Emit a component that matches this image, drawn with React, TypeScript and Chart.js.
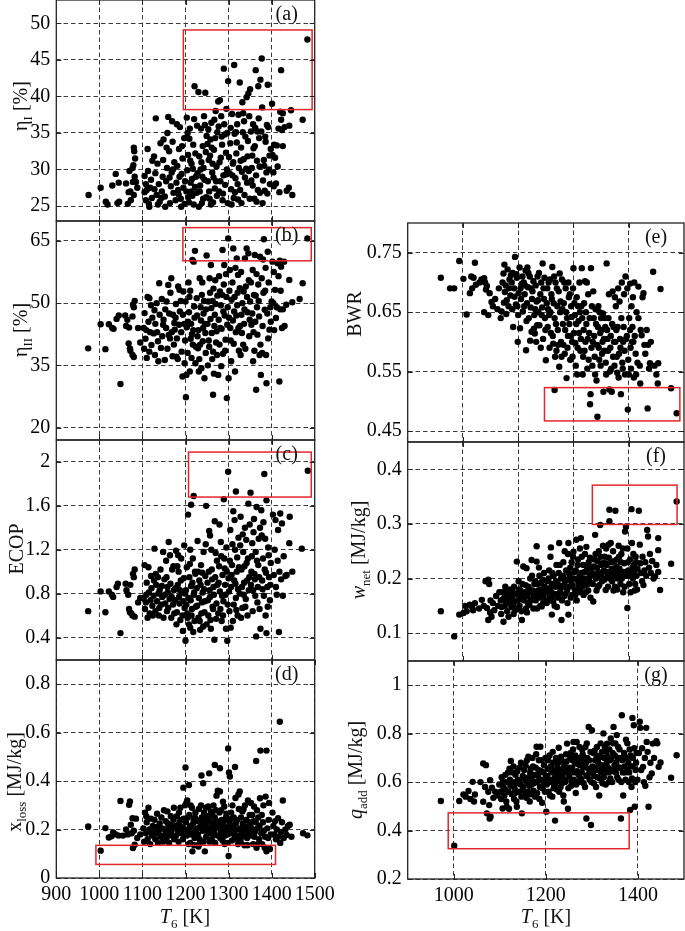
import React, { useEffect, useRef } from "react";
import { Chart, registerables } from "chart.js";

Chart.register(...registerables);

type Pt = [number, number];

// ---------- data: [T6 (K), value] ----------
const etaIPoints: Pt[] = [
  [975,26.5],[1003,27.5],[1015,25.6],[1019,25.2],[1030,27.8],[1038,29.4],[1045,28.2],[1046,25.6],[1042,25.4],
  [1062,28.1],[1066,25.3],[1068,26.9],[1072,27.0],[1073,25.8],[1070,29.8],
  [1077,30.2],[1079,30.6],[1080,33.0],[1081,32.5],[1082,29.0],[1078,28.3],[1080,26.5],[1085,28.3],[1088,27.5],[1083,31.5],
  [1105,29.1],[1108,28.0],[1112,32.8],[1110,27.2],[1115,25.3],[1118,27.5],[1113,29.8],[1120,28.6],[1122,26.1],[1105,26.9],[1123,31.2],[1116,24.9],[1108,25.8],
  [1128,27.3],[1130,29.5],[1133,26.5],[1135,30.8],[1138,28.0],[1140,25.6],[1142,33.6],[1145,27.0],[1147,29.0],[1131,37.0],[1136,25.2],[1148,31.3],[1144,26.1],[1127,31.8],[1149,34.1],
  [1152,26.3],[1155,28.4],[1157,30.2],[1160,37.2],[1162,32.5],[1164,25.4],[1166,27.7],[1168,29.6],[1170,33.8],[1172,26.8],[1174,31.0],[1158,35.0],[1153,24.9],[1169,36.6],[1163,28.9],[1171,30.0],[1156,33.0],
  [1177,25.8],[1179,28.2],[1181,30.5],[1183,27.2],[1185,32.8],[1187,35.8],[1189,26.0],[1191,29.4],[1193,31.5],[1195,27.5],[1197,34.3],[1198,25.3],[1180,36.2],[1186,29.0],[1192,33.2],[1199,28.4],[1184,26.6],[1190,24.9],
  [1202,27.0],[1204,29.9],[1206,32.0],[1208,25.5],[1210,35.6],[1212,28.2],[1214,30.8],[1216,26.4],[1218,33.4],[1220,36.9],[1222,27.6],[1224,29.0],[1203,37.1],[1207,26.2],[1211,31.2],[1215,28.7],[1219,25.2],[1223,32.2],[1209,34.2],[1213,27.0],[1217,30.1],[1221,41.4],[1205,35.0],
  [1226,26.8],[1228,29.5],[1230,40.6],[1232,31.8],[1234,27.8],[1236,35.6],[1238,25.4],[1240,33.2],[1242,30.2],[1244,28.6],[1246,40.5],[1248,26.2],[1227,36.0],[1231,24.9],[1235,30.0],[1239,29.0],[1243,37.3],[1247,32.4],[1249,34.6],[1233,27.0],[1241,26.0],[1237,31.0],[1245,36.1],
  [1252,28.4],[1254,31.3],[1256,26.0],[1258,34.1],[1260,36.4],[1262,29.6],[1264,25.5],[1266,32.7],[1268,27.4],[1270,38.0],[1272,30.4],[1274,35.1],[1251,33.5],[1255,27.0],[1259,25.2],[1263,30.8],[1267,36.8],[1271,28.4],[1273,26.4],[1257,31.9],[1261,33.0],[1265,28.9],[1269,34.3],[1253,35.5],
  [1276,39.3],[1278,27.0],[1280,39.5],[1282,31.6],[1284,34.5],[1286,25.8],[1288,29.2],[1289,43.8],[1290,36.2],[1292,27.9],[1294,32.3],[1295,38.3],[1296,30.0],[1298,25.4],[1299,42.1],[1277,35.9],[1281,28.4],[1285,33.4],[1287,26.7],[1291,34.8],[1293,29.3],[1297,35.0],[1279,31.0],[1283,37.3],
  [1302,29.5],[1304,33.6],[1306,27.3],[1308,37.6],[1310,30.8],[1312,26.1],[1313,44.3],[1314,34.9],[1316,28.8],[1318,32.2],[1320,36.2],[1322,25.9],[1324,30.2],[1301,31.7],[1305,35.7],[1309,29.2],[1315,26.9],[1319,33.7],[1323,37.5],[1307,25.2],[1311,31.0],[1317,35.1],[1321,28.0],
  [1326,41.9],[1327,27.2],[1329,33.0],[1331,29.7],[1332,39.2],[1333,35.1],[1335,31.4],[1337,26.5],[1339,34.5],[1341,30.1],[1342,39.9],[1343,28.2],[1345,33.9],[1346,40.4],[1348,37.3],[1349,26.0],[1328,31.2],[1336,36.6],[1344,31.8],[1330,25.4],[1338,28.9],[1347,29.8],[1334,37.7],
  [1350,41.0],[1352,35.2],[1354,30.2],[1356,27.8],[1358,32.9],[1360,26.0],[1362,35.7],[1363,43.6],[1364,29.2],[1366,31.2],[1368,27.2],[1369,41.4],[1370,37.0],[1372,30.4],[1374,42.3],[1353,28.5],[1357,36.2],[1361,33.2],[1365,25.6],[1371,34.3],[1373,26.8],[1367,35.2],[1355,31.9],
  [1376,35.2],[1377,45.2],[1378,38.5],[1380,28.5],[1382,31.3],[1384,27.1],[1386,33.8],[1388,29.6],[1390,26.7],[1391,41.6],[1392,35.8],[1394,30.0],[1396,28.0],[1398,32.8],[1379,25.4],[1385,34.5],[1389,36.1],[1395,31.9],[1383,30.5],
  [1401,39.0],[1402,32.0],[1404,29.6],[1406,33.4],[1410,28.1],[1412,33.3],[1414,30.4],[1416,35.6],[1420,37.9],[1422,36.8],[1422,43.6],[1424,35.4],[1408,31.6],[1418,26.9],[1405,27.7],
  [1426,37.7],[1426,33.2],[1430,35.8],[1435,27.1],[1441,36.0],[1445,38.1],[1448,26.5],[1440,27.5],
  [1472,36.8],[1483,47.8]
];

const etaIIPoints: Pt[] = [
  [974,39.1],[1003,44.9],[1014,38.9],[1022,44.9],[1030,44.0],[1033,43.8],[1049,30.5],[1040,46.2],[1045,47.0],
  [1060,47.0],[1065,46.0],[1068,40.3],[1071,39.1],[1072,38.5],[1069,44.1],[1062,44.5],
  [1077,37.5],[1080,37.0],[1078,49.6],[1082,50.5],[1077,46.8],[1080,49.0],[1090,44.0],[1095,40.5],
  [1105,47.6],[1107,41.4],[1109,43.5],[1112,51.5],[1116,51.2],[1116,38.3],[1121,39.9],[1118,43.0],[1110,36.8],[1123,46.5],[1104,39.0],[1114,45.5],[1120,49.5],[1103,44.0],
  [1126,42.7],[1129,37.5],[1133,50.0],[1139,54.8],[1140,47.2],[1148,44.8],[1130,45.0],[1136,40.8],[1143,39.2],[1146,42.0],[1128,48.3],[1137,36.0],[1145,51.0],[1149,46.0],[1134,43.0],
  [1152,36.3],[1156,50.4],[1160,54.4],[1164,41.5],[1167,56.0],[1171,47.2],[1155,44.0],[1158,39.0],[1162,47.5],[1165,52.5],[1168,43.0],[1173,40.0],[1153,48.5],[1170,37.2],[1174,45.2],[1161,42.3],
  [1175,43.6],[1179,37.1],[1183,54.0],[1187,48.0],[1191,38.3],[1193,32.3],[1195,52.8],[1177,46.5],[1180,41.5],[1185,44.8],[1189,50.5],[1197,45.0],[1199,41.0],[1182,36.5],[1194,47.2],[1186,53.2],[1198,35.5],[1178,49.8],[1190,43.0],
  [1200,50.4],[1201,27.3],[1206,45.5],[1210,33.5],[1212,41.4],[1216,60.4],[1222,62.6],[1203,44.2],[1205,38.0],[1208,47.8],[1211,53.0],[1214,36.8],[1218,43.5],[1220,49.2],[1224,39.5],[1202,32.7],[1207,55.0],[1213,45.0],[1217,40.0],[1221,46.5],[1209,51.5],[1223,35.5],[1215,42.5],[1219,60.0],
  [1226,51.2],[1229,39.1],[1233,56.0],[1237,34.3],[1241,44.0],[1244,31.9],[1249,61.5],[1227,47.0],[1230,43.5],[1232,36.5],[1235,49.0],[1238,52.0],[1240,40.8],[1242,47.5],[1245,45.0],[1247,38.0],[1228,42.0],[1231,33.5],[1236,45.8],[1239,55.0],[1243,50.5],[1246,42.8],[1248,48.5],[1234,40.0],
  [1253,50.4],[1256,56.0],[1259,59.2],[1264,27.9],[1264,38.3],[1268,47.2],[1272,43.2],[1251,45.0],[1254,41.0],[1257,52.5],[1260,48.8],[1262,36.5],[1265,53.5],[1267,44.5],[1270,49.8],[1273,37.5],[1252,35.0],[1258,46.2],[1261,42.8],[1266,33.0],[1269,55.5],[1274,51.8],[1255,39.5],[1263,50.5],[1271,40.5],
  [1276,32.7],[1280,52.8],[1286,62.8],[1290,59.2],[1296,27.1],[1299,65.6],[1300,31.9],[1277,46.0],[1279,40.0],[1282,49.5],[1284,43.8],[1287,37.8],[1289,54.5],[1291,47.0],[1293,41.2],[1295,51.5],[1297,44.8],[1278,56.5],[1283,34.8],[1288,48.0],[1292,38.5],[1294,57.0],[1298,49.0],[1281,44.0],[1285,52.0],
  [1303,58.0],[1307,50.8],[1311,63.2],[1315,33.5],[1319,60.8],[1323,44.0],[1301,46.5],[1305,41.0],[1309,55.0],[1313,48.0],[1317,43.0],[1321,52.5],[1324,38.5],[1302,53.0],[1306,36.0],[1310,45.8],[1314,51.5],[1318,47.0],[1322,56.8],[1304,44.0],[1312,40.2],[1320,49.5],[1316,58.5],
  [1326,53.6],[1330,47.2],[1334,40.0],[1338,60.8],[1342,63.2],[1346,62.0],[1350,50.4],[1327,44.5],[1329,57.5],[1332,50.0],[1336,45.0],[1340,54.0],[1344,47.8],[1348,42.0],[1328,37.5],[1335,52.8],[1339,39.0],[1343,51.5],[1347,55.5],[1331,42.8],[1349,46.0],[1337,48.5],
  [1353,44.8],[1357,36.0],[1361,61.6],[1364,29.1],[1367,42.4],[1373,61.2],[1375,32.7],[1352,55.0],[1355,47.5],[1359,52.0],[1362,45.5],[1366,49.0],[1369,54.5],[1371,46.8],[1374,40.0],[1356,58.0],[1360,38.5],[1365,57.0],[1370,50.5],[1358,43.0],[1372,37.5],[1363,51.8],
  [1382,65.4],[1384,48.4],[1388,30.7],[1391,62.4],[1395,43.6],[1400,50.4],[1377,56.0],[1379,44.5],[1381,52.5],[1386,58.5],[1390,47.5],[1393,55.0],[1397,49.0],[1378,38.0],[1385,53.0],[1392,41.5],[1398,45.5],[1380,60.5],[1387,37.5],
  [1402,60.0],[1408,53.2],[1410,46.4],[1414,59.6],[1418,31.1],[1422,58.8],[1424,44.0],[1404,50.0],[1406,43.5],[1412,49.0],[1416,56.5],[1420,48.5],[1405,57.5],[1419,60.2],[1421,53.0],
  [1429,60.0],[1434,49.6],[1441,55.6],[1448,50.2],[1430,44.5],[1426,48.5],
  [1472,54.8],[1483,65.6],[1465,51.0]
];

const ecopPoints: Pt[] = [
  [974,0.64],[1003,0.82],[1014,0.63],[1022,0.82],[1029,0.79],[1032,0.77],[1040,0.86],[1043,0.89],[1049,0.44],
  [1061,0.89],[1063,0.83],[1067,0.79],[1069,0.66],[1071,0.63],[1074,0.62],[1077,0.60],[1082,0.59],[1078,0.98],[1082,1.02],[1080,0.95],[1072,0.88],[1090,0.72],[1095,0.76],
  [1105,1.06],[1103,0.76],[1106,0.66],[1108,0.72],[1110,0.90],[1112,0.58],[1115,0.81],[1117,0.62],[1119,0.74],[1121,0.85],[1123,0.69],[1114,1.04],[1120,0.96],[1109,0.79],[1124,0.60],
  [1126,0.78],[1128,1.21],[1130,0.64],[1132,0.88],[1134,0.73],[1136,0.95],[1138,0.60],[1140,0.83],[1142,1.02],[1144,0.70],[1146,0.77],[1148,1.18],[1131,0.98],[1139,0.67],[1145,0.87],[1149,0.58],[1127,0.92],[1137,0.80],
  [1151,0.93],[1153,0.71],[1155,1.10],[1157,0.64],[1159,0.81],[1161,1.27],[1163,0.75],[1165,0.89],[1167,0.58],[1169,1.02],[1171,0.70],[1173,0.83],[1152,0.79],[1156,0.95],[1160,0.67],[1164,1.15],[1168,0.77],[1172,1.05],[1174,0.62],[1158,0.86],
  [1176,0.74],[1178,1.19],[1180,0.63],[1182,0.88],[1184,1.00],[1186,0.71],[1188,0.56],[1190,1.12],[1192,0.81],[1194,0.46],[1196,0.94],[1198,0.67],[1177,0.85],[1181,1.05],[1185,0.77],[1189,0.92],[1193,0.60],[1197,1.24],[1179,0.52],[1187,0.83],[1195,0.73],[1199,0.80],[1183,1.15],
  [1200,0.37],[1201,0.83],[1203,1.04],[1205,0.58],[1206,1.52],[1207,0.76],[1209,0.95],[1211,0.49],[1213,1.61],[1213,0.87],[1215,0.66],[1217,1.12],[1219,1.69],[1219,0.79],[1221,0.55],[1223,0.98],[1202,0.70],[1204,0.62],[1208,0.52],[1210,1.07],[1212,0.74],[1214,0.60],[1216,0.90],[1218,0.45],[1220,0.81],[1222,1.00],[1224,0.68],[1211,1.20],
  [1226,0.85],[1228,1.28],[1230,0.58],[1232,0.92],[1234,0.47],[1236,1.06],[1238,0.72],[1240,0.81],[1242,1.18],[1244,0.63],[1246,0.96],[1248,1.60],[1249,0.52],[1227,0.69],[1229,1.00],[1231,0.76],[1233,0.55],[1235,0.88],[1237,0.62],[1239,0.99],[1241,0.50],[1243,0.84],[1245,0.73],[1247,1.25],
  [1251,0.90],[1253,0.60],[1255,1.37],[1257,0.77],[1259,0.48],[1261,1.02],[1263,0.68],[1265,0.86],[1267,0.38],[1268,1.46],[1269,0.95],[1271,0.57],[1273,1.10],[1252,0.74],[1254,1.00],[1256,0.83],[1258,0.56],[1260,1.20],[1262,0.93],[1264,0.66],[1266,0.79],[1270,1.17],[1272,0.71],[1274,0.88],[1257,1.33],
  [1276,0.62],[1278,1.05],[1280,0.82],[1282,1.27],[1284,0.55],[1286,0.97],[1288,0.73],[1289,1.66],[1290,1.12],[1292,0.88],[1294,0.48],[1296,1.00],[1297,0.37],[1299,1.91],[1298,0.70],[1277,0.90],[1279,1.43],[1281,0.66],[1283,1.14],[1285,0.78],[1287,0.60],[1291,1.03],[1293,0.79],[1295,1.22],[1300,0.94],
  [1302,0.64],[1304,1.38],[1306,0.86],[1308,1.06],[1310,0.55],[1311,1.55],[1313,0.92],[1315,1.20],[1317,1.73],[1317,0.76],[1319,1.00],[1321,0.60],[1323,1.31],[1301,0.82],[1303,1.10],[1305,0.49],[1307,0.97],[1309,1.25],[1312,0.70],[1314,1.47],[1316,0.89],[1318,0.65],[1320,1.13],[1322,0.84],[1324,1.04],
  [1326,0.80],[1328,1.50],[1330,1.02],[1332,0.67],[1334,1.18],[1336,0.90],[1338,1.40],[1340,0.75],[1342,1.08],[1344,0.60],[1346,1.62],[1348,0.95],[1327,1.24],[1329,0.58],[1331,0.86],[1333,1.34],[1335,0.79],[1337,1.05],[1339,0.68],[1341,1.29],[1343,0.92],[1345,1.12],[1347,0.83],[1349,1.43],
  [1351,1.72],[1352,0.88],[1354,1.14],[1356,0.64],[1358,1.36],[1360,0.98],[1362,0.78],[1364,0.41],[1365,1.59],[1366,1.10],[1368,0.86],[1370,1.30],[1372,0.66],[1374,0.48],[1353,1.00],[1355,1.26],[1357,0.83],[1359,1.48],[1361,0.93],[1363,1.18],[1367,0.72],[1369,1.06],[1371,0.95],[1373,1.40],
  [1376,1.56],[1378,0.92],[1380,1.12],[1382,0.78],[1383,1.89],[1384,1.02],[1386,0.60],[1388,1.65],[1388,0.44],[1390,0.86],[1392,1.22],[1394,0.95],[1396,0.74],[1398,1.08],[1377,1.33],[1379,0.84],[1381,1.45],[1385,1.30],[1387,0.99],[1391,0.68],[1393,1.15],[1397,0.88],
  [1403,1.52],[1405,0.97],[1407,1.20],[1409,1.47],[1410,0.86],[1412,0.79],[1414,1.10],[1417,0.45],[1418,1.00],[1420,1.53],[1422,0.93],[1424,1.44],[1426,0.78],[1428,1.14],[1432,0.96],[1435,0.97],[1441,1.26],[1442,1.50],[1448,1.00],[1415,1.38],
  [1470,1.21],[1484,1.92]
];

const xLossPoints: Pt[] = [
  [974,0.213],[1003,0.113],[1014,0.206],[1022,0.167],[1032,0.188],[1038,0.180],[1045,0.175],[1049,0.318],[1028,0.172],
  [1055,0.175],[1062,0.200],[1069,0.302],[1071,0.316],[1073,0.220],[1075,0.185],[1077,0.247],[1078,0.124],[1082,0.137],[1080,0.195],[1085,0.245],[1088,0.165],[1095,0.180],[1066,0.180],
  [1102,0.205],[1104,0.150],[1106,0.270],[1108,0.185],[1110,0.230],[1112,0.160],[1114,0.290],[1116,0.200],[1118,0.140],[1120,0.245],[1122,0.175],[1124,0.215],[1109,0.255],[1119,0.195],
  [1126,0.185],[1128,0.240],[1130,0.160],[1132,0.210],[1134,0.265],[1136,0.145],[1138,0.195],[1140,0.225],[1142,0.170],[1144,0.250],[1146,0.205],[1148,0.150],[1150,0.280],[1131,0.185],[1139,0.210],[1147,0.175],
  [1152,0.200],[1154,0.235],[1156,0.165],[1158,0.275],[1160,0.190],[1162,0.145],[1164,0.220],[1166,0.255],[1168,0.175],[1170,0.205],[1172,0.240],[1174,0.160],[1155,0.185],[1161,0.210],[1167,0.195],[1173,0.290],[1159,0.225],
  [1176,0.215],[1178,0.175],[1180,0.255],[1182,0.195],[1184,0.150],[1186,0.230],[1188,0.290],[1190,0.185],[1192,0.210],[1194,0.160],[1195,0.373],[1196,0.245],[1198,0.200],[1200,0.456],[1179,0.215],[1185,0.270],[1191,0.240],[1197,0.175],[1199,0.300],[1183,0.205],
  [1201,0.230],[1203,0.175],[1204,0.320],[1206,0.195],[1208,0.384],[1209,0.260],[1211,0.145],[1213,0.215],[1215,0.290],[1216,0.110],[1217,0.185],[1219,0.240],[1221,0.165],[1223,0.270],[1225,0.200],[1202,0.310],[1205,0.250],[1210,0.210],[1212,0.300],[1214,0.180],[1218,0.225],[1220,0.135],[1222,0.250],[1224,0.185],[1207,0.140],
  [1227,0.235],[1229,0.180],[1231,0.285],[1233,0.160],[1235,0.215],[1237,0.423],[1238,0.250],[1240,0.195],[1241,0.391],[1243,0.270],[1245,0.110],[1246,0.230],[1248,0.170],[1250,0.255],[1228,0.205],[1232,0.140],[1236,0.300],[1239,0.225],[1242,0.150],[1244,0.200],[1247,0.290],[1249,0.210],[1234,0.240],[1230,0.130],
  [1252,0.185],[1254,0.240],[1255,0.432],[1257,0.205],[1259,0.275],[1261,0.160],[1263,0.225],[1265,0.300],[1266,0.190],[1268,0.467],[1268,0.250],[1270,0.215],[1272,0.340],[1274,0.175],[1253,0.295],[1256,0.150],[1258,0.230],[1260,0.200],[1262,0.260],[1264,0.180],[1267,0.215],[1269,0.145],[1271,0.280],[1273,0.235],[1275,0.360],
  [1277,0.205],[1279,0.270],[1280,0.453],[1280,0.357],[1282,0.185],[1284,0.240],[1286,0.155],[1288,0.215],[1290,0.295],[1292,0.175],[1294,0.250],[1296,0.200],[1298,0.145],[1299,0.535],[1278,0.225],[1281,0.165],[1283,0.280],[1285,0.195],[1287,0.315],[1289,0.235],[1291,0.140],[1293,0.210],[1295,0.265],[1297,0.180],
  [1300,0.091],[1301,0.436],[1303,0.419],[1302,0.230],[1304,0.185],[1306,0.270],[1308,0.155],[1310,0.215],[1312,0.250],[1314,0.175],[1315,0.458],[1316,0.330],[1318,0.200],[1320,0.240],[1322,0.140],[1324,0.285],[1305,0.210],[1309,0.300],[1313,0.190],[1317,0.225],[1321,0.160],[1323,0.345],[1307,0.245],[1319,0.175],
  [1326,0.357],[1327,0.205],[1329,0.250],[1331,0.170],[1333,0.225],[1335,0.285],[1337,0.135],[1339,0.200],[1341,0.240],[1343,0.165],[1345,0.320],[1347,0.190],[1349,0.260],[1328,0.150],[1332,0.275],[1336,0.180],[1340,0.210],[1344,0.135],[1348,0.230],[1330,0.190],[1338,0.300],
  [1351,0.215],[1353,0.175],[1355,0.260],[1357,0.140],[1359,0.295],[1361,0.190],[1363,0.230],[1364,0.483],[1365,0.125],[1367,0.205],[1369,0.250],[1371,0.160],[1373,0.329],[1374,0.526],[1352,0.310],[1356,0.200],[1360,0.170],[1366,0.280],[1368,0.140],[1372,0.215],[1358,0.235],
  [1376,0.185],[1378,0.140],[1380,0.230],[1382,0.195],[1384,0.125],[1386,0.336],[1388,0.526],[1388,0.110],[1390,0.205],[1392,0.165],[1394,0.310],[1396,0.120],[1398,0.180],[1377,0.260],[1381,0.300],[1385,0.170],[1393,0.240],
  [1402,0.270],[1404,0.215],[1406,0.180],[1408,0.235],[1410,0.160],[1412,0.200],[1415,0.247],[1416,0.170],[1419,0.645],[1420,0.145],[1422,0.190],[1426,0.320],[1428,0.165],[1432,0.200],[1435,0.178],[1438,0.215],[1442,0.220],[1446,0.170],[1424,0.230],
  [1473,0.185],[1483,0.176]
];

const bwrPoints: Pt[] = [
  [972,0.708],[992,0.690],[1001,0.690],[1012,0.736],[1021,0.706],[1028,0.646],[1035,0.682],[1038,0.710],[1043,0.708],[1046,0.733],[1048,0.696],[1040,0.690],
  [1056,0.700],[1060,0.705],[1066,0.707],[1068,0.700],[1072,0.694],[1066,0.650],[1075,0.645],[1070,0.688],[1082,0.667],[1085,0.660],[1090,0.672],[1095,0.655],[1098,0.690],[1078,0.682],
  [1104,0.651],[1106,0.700],[1108,0.715],[1110,0.730],[1111,0.684],[1113,0.695],[1115,0.670],[1117,0.722],[1119,0.660],[1121,0.705],[1123,0.678],[1102,0.640],[1114,0.647],[1120,0.690],[1124,0.712],[1109,0.666],
  [1126,0.700],[1128,0.716],[1129,0.625],[1131,0.690],[1133,0.743],[1135,0.663],[1137,0.708],[1139,0.600],[1141,0.682],[1143,0.725],[1144,0.623],[1146,0.672],[1148,0.698],[1150,0.651],[1127,0.655],[1132,0.676],[1136,0.714],[1140,0.645],[1145,0.690],[1149,0.710],[1138,0.660],
  [1152,0.700],[1154,0.680],[1156,0.720],[1157,0.586],[1159,0.665],[1161,0.692],[1163,0.640],[1165,0.710],[1167,0.658],[1169,0.617],[1171,0.685],[1173,0.702],[1175,0.645],[1153,0.660],[1158,0.635],[1162,0.716],[1166,0.602],[1170,0.672],[1174,0.622],[1155,0.695],[1160,0.725],[1168,0.690],
  [1176,0.614],[1178,0.695],[1180,0.668],[1182,0.710],[1184,0.650],[1186,0.628],[1188,0.680],[1190,0.700],[1192,0.658],[1193,0.732],[1194,0.605],[1196,0.672],[1198,0.640],[1200,0.569],[1177,0.655],[1181,0.628],[1185,0.716],[1189,0.590],[1195,0.690],[1199,0.620],[1183,0.670],[1191,0.645],[1197,0.708],[1179,0.600],
  [1202,0.665],[1204,0.625],[1206,0.700],[1208,0.590],[1210,0.650],[1212,0.680],[1214,0.726],[1215,0.610],[1217,0.665],[1219,0.519],[1219,0.640],[1221,0.700],[1223,0.585],[1225,0.660],[1203,0.690],[1207,0.645],[1211,0.615],[1213,0.672],[1216,0.597],[1218,0.710],[1220,0.575],[1222,0.630],[1224,0.690],[1205,0.655],[1209,0.705],
  [1226,0.620],[1228,0.685],[1229,0.558],[1231,0.650],[1233,0.600],[1235,0.705],[1237,0.630],[1239,0.665],[1241,0.580],[1243,0.690],[1245,0.539],[1246,0.640],[1248,0.610],[1250,0.675],[1227,0.595],[1230,0.715],[1232,0.668],[1234,0.575],[1236,0.655],[1238,0.595],[1240,0.700],[1242,0.620],[1244,0.650],[1247,0.590],[1249,0.700],
  [1251,0.630],[1253,0.570],[1255,0.660],[1257,0.600],[1259,0.690],[1260,0.724],[1261,0.615],[1263,0.645],[1265,0.560],[1267,0.675],[1269,0.590],[1271,0.635],[1273,0.700],[1275,0.585],[1252,0.680],[1254,0.610],[1256,0.642],[1258,0.575],[1262,0.665],[1264,0.598],[1266,0.630],[1268,0.545],[1270,0.660],[1272,0.615],[1274,0.650],
  [1276,0.605],[1278,0.724],[1279,0.640],[1281,0.575],[1283,0.665],[1285,0.702],[1286,0.600],[1288,0.630],[1290,0.555],[1292,0.680],[1294,0.615],[1296,0.495],[1297,0.512],[1298,0.724],[1299,0.590],[1277,0.660],[1280,0.545],[1282,0.620],[1284,0.585],[1287,0.650],[1289,0.700],[1291,0.605],[1293,0.570],[1295,0.640],[1300,0.660],
  [1302,0.600],[1304,0.640],[1306,0.575],[1308,0.655],[1310,0.535],[1312,0.474],[1313,0.625],[1315,0.590],[1317,0.650],[1319,0.560],[1321,0.620],[1323,0.600],[1325,0.516],[1303,0.685],[1305,0.610],[1307,0.545],[1309,0.630],[1311,0.595],[1314,0.660],[1316,0.570],[1318,0.615],[1320,0.640],[1322,0.580],[1324,0.648],[1301,0.560],
  [1326,0.605],[1328,0.640],[1330,0.565],[1332,0.732],[1333,0.620],[1335,0.585],[1337,0.680],[1339,0.550],[1341,0.610],[1343,0.516],[1344,0.630],[1346,0.575],[1348,0.600],[1350,0.675],[1327,0.585],[1329,0.625],[1331,0.545],[1334,0.605],[1336,0.640],[1338,0.520],[1340,0.590],[1342,0.555],[1345,0.685],[1347,0.625],[1349,0.560],
  [1351,0.600],[1353,0.620],[1355,0.548],[1357,0.690],[1359,0.580],[1361,0.605],[1363,0.512],[1364,0.640],[1366,0.565],[1368,0.600],[1370,0.680],[1372,0.545],[1373,0.710],[1374,0.605],[1352,0.660],[1354,0.575],[1356,0.625],[1358,0.540],[1360,0.668],[1362,0.590],[1365,0.700],[1367,0.555],[1369,0.625],[1371,0.585],
  [1376,0.610],[1378,0.486],[1379,0.570],[1381,0.640],[1383,0.698],[1383,0.620],[1385,0.555],[1387,0.600],[1389,0.675],[1391,0.540],[1393,0.610],[1395,0.580],[1397,0.650],[1399,0.565],[1377,0.690],[1380,0.545],[1384,0.590],[1388,0.625],[1392,0.700],[1396,0.545],[1386,0.660],[1390,0.600],
  [1401,0.693],[1401,0.640],[1404,0.560],[1406,0.620],[1408,0.611],[1410,0.675],[1412,0.682],[1414,0.595],[1416,0.580],[1419,0.620],[1421,0.488],[1422,0.595],[1424,0.555],[1426,0.564],[1428,0.600],[1433,0.718],[1436,0.560],[1440,0.545],[1443,0.530],[1444,0.564],[1449,0.689],[1405,0.530],
  [1472,0.522],[1484,0.480]
];

const wNetPoints: Pt[] = [
  [972,0.140],[1001,0.094],[1012,0.134],[1021,0.137],[1028,0.140],[1035,0.152],[1040,0.148],[1046,0.155],[1042,0.142],[1025,0.150],
  [1055,0.145],[1061,0.161],[1065,0.150],[1069,0.195],[1072,0.146],[1075,0.198],[1077,0.190],[1075,0.124],[1080,0.160],[1082,0.130],[1085,0.155],[1088,0.142],[1092,0.168],[1096,0.150],[1099,0.175],[1079,0.138],
  [1102,0.160],[1104,0.148],[1106,0.175],[1108,0.121],[1110,0.165],[1112,0.185],[1114,0.155],[1116,0.140],[1118,0.170],[1119,0.130],[1121,0.158],[1123,0.180],[1125,0.148],[1103,0.135],[1107,0.162],[1111,0.150],[1115,0.177],[1120,0.165],
  [1127,0.165],[1129,0.150],[1131,0.185],[1133,0.142],[1135,0.172],[1137,0.231],[1139,0.160],[1141,0.195],[1143,0.150],[1145,0.178],[1147,0.140],[1148,0.124],[1150,0.168],[1128,0.175],[1132,0.158],[1136,0.145],[1140,0.170],[1144,0.162],[1149,0.190],[1130,0.135],[1142,0.180],
  [1151,0.222],[1153,0.160],[1155,0.175],[1157,0.145],[1158,0.219],[1160,0.168],[1162,0.185],[1164,0.152],[1166,0.200],[1168,0.162],[1169,0.234],[1171,0.178],[1173,0.145],[1175,0.190],[1152,0.170],[1156,0.188],[1159,0.138],[1163,0.175],[1167,0.160],[1170,0.205],[1174,0.170],[1161,0.155],[1165,0.180],
  [1176,0.175],[1178,0.160],[1180,0.231],[1180,0.259],[1182,0.190],[1184,0.168],[1186,0.205],[1188,0.150],[1190,0.180],[1191,0.149],[1193,0.198],[1195,0.170],[1197,0.185],[1199,0.160],[1177,0.195],[1181,0.145],[1183,0.178],[1185,0.220],[1187,0.165],[1189,0.192],[1192,0.175],[1194,0.155],[1196,0.210],[1198,0.180],[1179,0.165],
  [1201,0.175],[1203,0.195],[1205,0.160],[1207,0.215],[1209,0.180],[1211,0.257],[1213,0.134],[1213,0.190],[1215,0.168],[1217,0.205],[1219,0.150],[1221,0.185],[1223,0.225],[1225,0.172],[1202,0.155],[1204,0.182],[1206,0.200],[1208,0.165],[1210,0.240],[1212,0.175],[1214,0.210],[1216,0.158],[1218,0.188],[1220,0.172],[1222,0.195],[1224,0.148],
  [1226,0.190],[1228,0.210],[1229,0.265],[1231,0.175],[1233,0.200],[1234,0.124],[1236,0.185],[1238,0.230],[1240,0.168],[1242,0.195],[1244,0.215],[1246,0.178],[1248,0.245],[1249,0.265],[1249,0.134],[1227,0.165],[1230,0.225],[1232,0.182],[1235,0.160],[1237,0.205],[1239,0.188],[1241,0.250],[1243,0.172],[1245,0.198],[1247,0.155],[1250,0.210],
  [1251,0.185],[1253,0.220],[1255,0.195],[1257,0.170],[1259,0.240],[1260,0.249],[1261,0.200],[1263,0.180],[1265,0.215],[1266,0.271],[1267,0.160],[1269,0.225],[1271,0.190],[1273,0.205],[1274,0.255],[1275,0.175],[1252,0.205],[1254,0.165],[1256,0.230],[1258,0.188],[1262,0.212],[1264,0.170],[1268,0.198],[1270,0.235],[1272,0.182],
  [1276,0.274],[1277,0.210],[1279,0.185],[1281,0.225],[1283,0.200],[1285,0.245],[1287,0.175],[1289,0.215],[1291,0.190],[1293,0.230],[1295,0.205],[1297,0.165],[1299,0.220],[1278,0.240],[1280,0.195],[1282,0.170],[1284,0.212],[1286,0.188],[1288,0.258],[1290,0.222],[1292,0.178],[1294,0.200],[1296,0.238],[1298,0.192],
  [1301,0.210],[1303,0.158],[1305,0.235],[1307,0.280],[1309,0.200],[1311,0.220],[1313,0.185],[1315,0.250],[1317,0.205],[1318,0.298],[1320,0.225],[1322,0.195],[1324,0.260],[1302,0.190],[1304,0.222],[1306,0.205],[1308,0.245],[1310,0.178],[1312,0.232],[1314,0.212],[1316,0.188],[1319,0.240],[1321,0.210],[1323,0.228],[1325,0.200],
  [1326,0.215],[1328,0.240],[1330,0.179],[1332,0.225],[1334,0.205],[1336,0.262],[1338,0.305],[1338,0.326],[1340,0.210],[1342,0.230],[1344,0.195],[1346,0.250],[1348,0.215],[1350,0.185],[1327,0.198],[1329,0.228],[1331,0.255],[1333,0.212],[1335,0.185],[1337,0.238],[1339,0.200],[1341,0.265],[1343,0.218],[1345,0.205],[1347,0.178],[1349,0.232],
  [1351,0.324],[1352,0.210],[1354,0.235],[1356,0.200],[1358,0.260],[1360,0.218],[1362,0.190],[1364,0.245],[1366,0.210],[1368,0.175],[1370,0.228],[1372,0.286],[1374,0.295],[1374,0.205],[1353,0.222],[1355,0.180],[1357,0.215],[1359,0.240],[1361,0.205],[1363,0.230],[1365,0.200],[1367,0.255],[1369,0.212],[1371,0.185],
  [1377,0.146],[1377,0.255],[1379,0.215],[1381,0.190],[1383,0.235],[1385,0.210],[1386,0.327],[1387,0.265],[1389,0.200],[1391,0.225],[1393,0.178],[1395,0.240],[1397,0.205],[1399,0.218],[1378,0.230],[1382,0.205],[1384,0.175],[1388,0.220],[1390,0.245],[1392,0.210],[1394,0.190],[1396,0.230],[1398,0.180],
  [1402,0.324],[1405,0.228],[1407,0.210],[1410,0.240],[1412,0.188],[1414,0.215],[1416,0.230],[1418,0.205],[1420,0.289],[1422,0.277],[1424,0.220],[1426,0.245],[1428,0.210],[1431,0.232],[1434,0.200],[1437,0.204],[1440,0.225],[1444,0.274],[1444,0.252],[1444,0.212],[1448,0.179],[1404,0.262],[1409,0.195],
  [1472,0.227],[1484,0.341]
];

const qAddPoints: Pt[] = [
  [972,0.522],[1001,0.337],[1012,0.522],[1021,0.549],[1026,0.540],[1032,0.563],[1036,0.530],[1041,0.601],[1046,0.549],[1044,0.520],
  [1058,0.600],[1064,0.677],[1070,0.670],[1064,0.519],[1068,0.580],[1072,0.471],[1075,0.560],[1078,0.450],[1080,0.457],[1079,0.608],[1083,0.577],[1077,0.505],[1086,0.535],[1090,0.560],[1095,0.545],[1099,0.590],
  [1102,0.560],[1104,0.620],[1106,0.491],[1108,0.580],[1110,0.545],[1112,0.630],[1115,0.498],[1117,0.600],[1119,0.560],[1121,0.655],[1123,0.585],[1124,0.687],[1103,0.530],[1107,0.605],[1111,0.570],[1114,0.520],[1118,0.640],[1120,0.490],[1122,0.610],
  [1126,0.550],[1128,0.600],[1130,0.665],[1132,0.575],[1134,0.630],[1136,0.520],[1137,0.498],[1139,0.610],[1141,0.560],[1143,0.660],[1145,0.590],[1147,0.540],[1148,0.471],[1150,0.625],[1127,0.640],[1131,0.530],[1135,0.595],[1138,0.645],[1142,0.600],[1146,0.680],[1149,0.565],[1133,0.555],
  [1151,0.580],[1153,0.650],[1155,0.545],[1157,0.605],[1159,0.690],[1161,0.560],[1163,0.620],[1165,0.520],[1167,0.655],[1169,0.590],[1171,0.700],[1173,0.565],[1175,0.630],[1152,0.615],[1156,0.670],[1158,0.535],[1160,0.600],[1164,0.585],[1166,0.640],[1168,0.550],[1170,0.612],[1172,0.665],[1174,0.595],[1162,0.705],
  [1176,0.600],[1178,0.660],[1180,0.746],[1181,0.555],[1183,0.625],[1185,0.690],[1187,0.580],[1188,0.746],[1190,0.645],[1192,0.515],[1194,0.605],[1196,0.670],[1198,0.560],[1200,0.620],[1177,0.540],[1179,0.715],[1182,0.600],[1184,0.650],[1186,0.530],[1189,0.610],[1191,0.690],[1193,0.575],[1195,0.640],[1197,0.595],[1199,0.700],
  [1201,0.478],[1202,0.590],[1204,0.655],[1206,0.560],[1208,0.710],[1210,0.600],[1212,0.640],[1214,0.540],[1216,0.680],[1218,0.585],[1220,0.441],[1220,0.620],[1222,0.700],[1224,0.570],[1203,0.625],[1205,0.690],[1207,0.600],[1209,0.545],[1211,0.665],[1213,0.610],[1215,0.725],[1217,0.575],[1219,0.650],[1221,0.595],[1223,0.635],[1225,0.660],
  [1226,0.605],[1228,0.742],[1230,0.650],[1232,0.580],[1234,0.690],[1236,0.620],[1238,0.545],[1240,0.670],[1242,0.600],[1244,0.715],[1246,0.759],[1247,0.640],[1249,0.575],[1227,0.680],[1229,0.560],[1231,0.625],[1233,0.705],[1235,0.595],[1237,0.655],[1239,0.520],[1241,0.640],[1243,0.610],[1245,0.685],[1248,0.490],[1250,0.660],
  [1251,0.625],[1253,0.700],[1255,0.585],[1257,0.660],[1259,0.735],[1260,0.766],[1261,0.610],[1263,0.680],[1265,0.555],[1267,0.766],[1268,0.645],[1270,0.700],[1272,0.600],[1274,0.670],[1252,0.650],[1254,0.720],[1256,0.605],[1258,0.690],[1262,0.640],[1264,0.710],[1266,0.590],[1269,0.675],[1271,0.630],[1273,0.745],[1275,0.615],
  [1276,0.690],[1278,0.640],[1280,0.715],[1282,0.595],[1284,0.670],[1286,0.745],[1288,0.450],[1288,0.625],[1290,0.700],[1292,0.655],[1293,0.828],[1295,0.610],[1297,0.725],[1298,0.423],[1300,0.814],[1277,0.610],[1279,0.735],[1281,0.660],[1283,0.700],[1285,0.580],[1287,0.680],[1289,0.760],[1291,0.630],[1294,0.690],[1296,0.650],[1299,0.600],
  [1301,0.665],[1303,0.720],[1305,0.625],[1307,0.690],[1309,0.580],[1311,0.745],[1313,0.650],[1315,0.700],[1317,0.615],[1319,0.760],[1321,0.670],[1323,0.595],[1325,0.801],[1302,0.640],[1304,0.595],[1306,0.730],[1308,0.660],[1310,0.710],[1312,0.620],[1314,0.680],[1316,0.545],[1318,0.705],[1320,0.640],[1322,0.725],[1324,0.660],
  [1327,0.700],[1329,0.640],[1331,0.725],[1333,0.759],[1335,0.660],[1337,0.600],[1339,0.690],[1341,0.780],[1343,0.645],[1345,0.720],[1347,0.828],[1349,0.670],[1326,0.620],[1328,0.745],[1330,0.590],[1332,0.680],[1334,0.705],[1336,0.640],[1338,0.735],[1340,0.615],[1342,0.695],[1344,0.600],[1346,0.760],[1348,0.655],[1350,0.710],
  [1352,0.640],[1354,0.794],[1356,0.700],[1358,0.610],[1360,0.735],[1362,0.660],[1363,0.450],[1365,0.876],[1366,0.690],[1368,0.545],[1370,0.720],[1372,0.640],[1374,0.775],[1351,0.760],[1353,0.680],[1355,0.620],[1357,0.745],[1359,0.660],[1361,0.700],[1364,0.600],[1367,0.640],[1369,0.705],[1371,0.665],[1373,0.610],
  [1376,0.700],[1378,0.650],[1380,0.600],[1382,0.735],[1383,0.485],[1385,0.665],[1387,0.615],[1388,0.865],[1389,0.700],[1391,0.835],[1393,0.498],[1395,0.650],[1397,0.720],[1399,0.610],[1377,0.760],[1379,0.680],[1381,0.640],[1384,0.710],[1386,0.580],[1390,0.665],[1392,0.740],[1394,0.600],[1396,0.680],
  [1404,0.849],[1405,0.824],[1407,0.650],[1409,0.740],[1411,0.663],[1413,0.600],[1415,0.700],[1418,0.824],[1419,0.766],[1421,0.725],[1423,0.498],[1425,0.620],[1427,0.680],[1430,0.636],[1432,0.759],[1435,0.700],[1440,0.769],[1442,0.760],[1445,0.663],[1449,0.681],[1402,0.720],[1416,0.585],
  [1472,0.618],[1484,0.711]
];

// ---------- ticks ----------
const xTicksLeftUpper = [1000, 1100, 1200, 1300, 1400];
const xTicksLeftBottom = [900, 1000, 1100, 1200, 1300, 1400, 1500];
const xTicksRightUpper = [1020, 1140, 1260, 1380];
const xTicksRightBottom = [1000, 1200, 1400];
const yTicksEtaI = [25, 30, 35, 40, 45, 50];
const yTicksEtaII = [20, 35, 50, 65];
const yTicksEcop = [0.4, 0.8, 1.2, 1.6, 2];
const yTicksXLoss = [0, 0.2, 0.4, 0.6, 0.8];
const yTicksBwr = [0.45, 0.55, 0.65, 0.75];
const yTicksWNet = [0.1, 0.2, 0.3, 0.4];
const yTicksQAdd = [0.2, 0.4, 0.6, 0.8, 1];

// ---------- highlight boxes: [xFrom, xTo, yFrom, yTo] ----------
const boxEtaI = [1195, 1494, 38.2, 49.1];
const boxEtaII = [1194, 1492, 60.2, 68.2];
const boxEcop = [1207, 1492, 1.68, 2.09];
const boxXLoss = [992, 1409, 0.056, 0.135];
const boxBwr = [1197, 1491, 0.467, 0.523];
const boxWNet = [1301, 1485, 0.299, 0.371];
const boxQAdd = [988, 1381, 0.325, 0.473];

const FONT = "'Liberation Serif', 'Times New Roman', serif";
const FS = 20;

interface PanelSpec {
  key: string;
  points: Pt[];
  yMin: number;
  yMax: number;
  yTicks: number[];
  xTicks: number[];
  xLabels: boolean;
  box: number[];
  letter: string;
  left: number;
  top: number;
  width: number;
  height: number;
  axisW: number;
  axisH: number;
  pad: { left: number; right: number; top: number; bottom: number };
}

const LEFT_COL = { left: 0, width: 340, axisW: 56.3, padR: 25.3 };
const RIGHT_COL = { left: 340, width: 345, axisW: 67.7, padR: 1 };

function mk(col: typeof LEFT_COL, chartTop: number, chartBottom: number, canvasBottom: number | null) {
  const top = chartTop - 4;
  const bottom = canvasBottom === null ? chartBottom + 4 : canvasBottom;
  return {
    left: col.left,
    top,
    width: col.width,
    height: bottom - top,
    axisW: col.axisW,
    axisH: canvasBottom === null ? 0 : canvasBottom - chartBottom,
    pad: { left: 0, right: col.padR, top: 4, bottom: canvasBottom === null ? 4 : 0 },
  };
}

const panels: PanelSpec[] = [
  { key: "a", points: etaIPoints, yMin: 22.95, yMax: 53.2, yTicks: yTicksEtaI, xTicks: xTicksLeftUpper, xLabels: false, box: boxEtaI, letter: "(a)", ...mk(LEFT_COL, 0, 221, null) },
  { key: "b", points: etaIIPoints, yMin: 17, yMax: 69.8, yTicks: yTicksEtaII, xTicks: xTicksLeftUpper, xLabels: false, box: boxEtaII, letter: "(b)", ...mk(LEFT_COL, 221, 440, null) },
  { key: "c", points: ecopPoints, yMin: 0.195, yMax: 2.2, yTicks: yTicksEcop, xTicks: xTicksLeftUpper, xLabels: false, box: boxEcop, letter: "(c)", ...mk(LEFT_COL, 440, 660, null) },
  { key: "d", points: xLossPoints, yMin: 0, yMax: 0.9, yTicks: yTicksXLoss, xTicks: xTicksLeftBottom, xLabels: true, box: boxXLoss, letter: "(d)", ...mk(LEFT_COL, 660, 878, 931) },
  { key: "e", points: bwrPoints, yMin: 0.4315, yMax: 0.8, yTicks: yTicksBwr, xTicks: xTicksRightUpper, xLabels: false, box: boxBwr, letter: "(e)", ...mk(RIGHT_COL, 223, 442, null) },
  { key: "f", points: wNetPoints, yMin: 0.049, yMax: 0.45, yTicks: yTicksWNet, xTicks: xTicksRightUpper, xLabels: false, box: boxWNet, letter: "(f)", ...mk(RIGHT_COL, 442, 661, null) },
  { key: "g", points: qAddPoints, yMin: 0.2, yMax: 1.1, yTicks: yTicksQAdd, xTicks: xTicksRightBottom, xLabels: true, box: boxQAdd, letter: "(g)", ...mk(RIGHT_COL, 661, 879, 931) },
];

const fmt = (v: number) => String(Number(v.toFixed(3)));

const zeroPad = (s: any) => {
  s.paddingTop = 0;
  s.paddingBottom = 0;
  s.paddingLeft = 0;
  s.paddingRight = 0;
};

function Panel({ spec }: { spec: PanelSpec }) {
  const ref = useRef<HTMLCanvasElement>(null);
  useEffect(() => {
    const canvas = ref.current;
    if (!canvas) return;
    const overlay = {
      id: "overlay" + spec.key,
      afterDraw(chart: any) {
        const { ctx, chartArea: a, scales } = chart;
        const xs = scales.x;
        const ys = scales.y;
        ctx.save();
        // red highlight box
        const [bx1, bx2, by1, by2] = spec.box;
        const px1 = xs.getPixelForValue(bx1);
        const px2 = xs.getPixelForValue(bx2);
        const py1 = ys.getPixelForValue(by1);
        const py2 = ys.getPixelForValue(by2);
        ctx.strokeStyle = "#e3262b";
        ctx.lineWidth = 1.5;
        ctx.strokeRect(px1, py2, px2 - px1, py1 - py2);
        // inward ticks
        ctx.strokeStyle = "#222";
        ctx.lineWidth = 1;
        ctx.beginPath();
        const tl = 5;
        for (const v of spec.xTicks) {
          const p = Math.round(xs.getPixelForValue(v)) + 0.5;
          ctx.moveTo(p, a.bottom);
          ctx.lineTo(p, a.bottom - tl);
          ctx.moveTo(p, a.top);
          ctx.lineTo(p, a.top + tl);
        }
        for (const v of spec.yTicks) {
          const p = Math.round(ys.getPixelForValue(v)) + 0.5;
          ctx.moveTo(a.left, p);
          ctx.lineTo(a.left + tl, p);
          ctx.moveTo(a.right, p);
          ctx.lineTo(a.right - tl, p);
        }
        ctx.stroke();
        // frame
        ctx.strokeStyle = "#222";
        ctx.lineWidth = 1.3;
        ctx.strokeRect(a.left, a.top, a.right - a.left, a.bottom - a.top);
        // panel letter
        ctx.fillStyle = "#111";
        ctx.font = `${FS}px ${FONT}`;
        ctx.textAlign = "center";
        ctx.textBaseline = "middle";
        ctx.fillText(spec.letter, a.right - 28, a.top + 15);
        ctx.restore();
      },
    };
    const chart = new Chart(canvas, {
      type: "scatter",
      data: {
        datasets: [
          {
            data: spec.points.map(([x, y]) => ({ x, y })),
            pointRadius: 3.2,
            pointHoverRadius: 3.2,
            pointBackgroundColor: "#000",
            pointBorderWidth: 0,
            pointBorderColor: "#000",
          },
        ],
      },
      options: {
        animation: false,
        responsive: false,
        devicePixelRatio: 1,
        events: [],
        layout: { autoPadding: false, padding: spec.pad },
        plugins: { legend: { display: false }, tooltip: { enabled: false }, title: { display: false } },
        scales: {
          x: {
            type: "linear",
            min: 900,
            max: 1500,
            afterBuildTicks: (s: any) => {
              s.ticks = spec.xTicks.map((v) => ({ value: v }));
            },
            afterFit: (s: any) => {
              s.height = spec.axisH;
              zeroPad(s);
            },
            grid: { color: "#3a3a3a", lineWidth: 1, drawTicks: false },
            border: { display: false, dash: [4.5, 3] },
            ticks: {
              display: spec.xLabels,
              autoSkip: false,
              maxRotation: 0,
              minRotation: 0,
              padding: 5,
              color: "#000",
              font: { family: FONT, size: FS },
              callback: (v: any) => fmt(Number(v)),
            },
          },
          y: {
            type: "linear",
            min: spec.yMin,
            max: spec.yMax,
            afterBuildTicks: (s: any) => {
              s.ticks = spec.yTicks.map((v) => ({ value: v }));
            },
            afterFit: (s: any) => {
              s.width = spec.axisW;
              zeroPad(s);
            },
            grid: { color: "#3a3a3a", lineWidth: 1, drawTicks: false },
            border: { display: false, dash: [4.5, 3] },
            ticks: {
              autoSkip: false,
              padding: 6,
              color: "#000",
              font: { family: FONT, size: FS },
              callback: (v: any) => fmt(Number(v)),
            },
          },
        },
      },
      plugins: [overlay],
    } as any);
    return () => chart.destroy();
  }, [spec]);
  return (
    <canvas
      ref={ref}
      width={spec.width}
      height={spec.height}
      style={{ position: "absolute", left: spec.left, top: spec.top, width: spec.width, height: spec.height }}
    />
  );
}

const subStyle: React.CSSProperties = { fontSize: 13, verticalAlign: "-0.35em", lineHeight: 1 };

function YTitle({ x, y, children }: { x: number; y: number; children: React.ReactNode }) {
  return (
    <div
      style={{
        position: "absolute",
        left: x,
        top: y,
        transform: "translate(-50%, -50%) rotate(-90deg)",
        whiteSpace: "nowrap",
        fontSize: FS,
        lineHeight: 1,
        fontFamily: FONT,
        color: "#111",
      }}
    >
      {children}
    </div>
  );
}

function XTitle({ x, y }: { x: number; y: number }) {
  return (
    <div
      style={{
        position: "absolute",
        left: x,
        top: y,
        transform: "translate(-50%, -50%)",
        whiteSpace: "nowrap",
        fontSize: FS,
        lineHeight: 1,
        fontFamily: FONT,
        color: "#111",
      }}
    >
      <i>T</i>
      <span style={subStyle}>6</span> [K]
    </div>
  );
}

export default function App() {
  return (
    <div
      style={{
        position: "fixed",
        left: 0,
        top: 0,
        width: 685,
        height: 931,
        background: "#fff",
        overflow: "hidden",
      }}
    >
      {panels.map((p) => (
        <Panel key={p.key} spec={p} />
      ))}
      <YTitle x={22} y={106}>
        η<span style={subStyle}>I</span> [%]
      </YTitle>
      <YTitle x={22} y={330}>
        η<span style={subStyle}>II</span> [%]
      </YTitle>
      <YTitle x={16} y={549}>
        ECOP
      </YTitle>
      <YTitle x={16} y={782}>
        x<span style={subStyle}>loss</span> [MJ/kg]
      </YTitle>
      <YTitle x={354} y={314}>
        BWR
      </YTitle>
      <YTitle x={360} y={550}>
        <i>w</i>
        <span style={subStyle}>net</span> [MJ/kg]
      </YTitle>
      <YTitle x={357} y={770}>
        <i>q</i>
        <span style={subStyle}>add</span> [MJ/kg]
      </YTitle>
      <XTitle x={185} y={918} />
      <XTitle x={546} y={918} />
    </div>
  );
}
